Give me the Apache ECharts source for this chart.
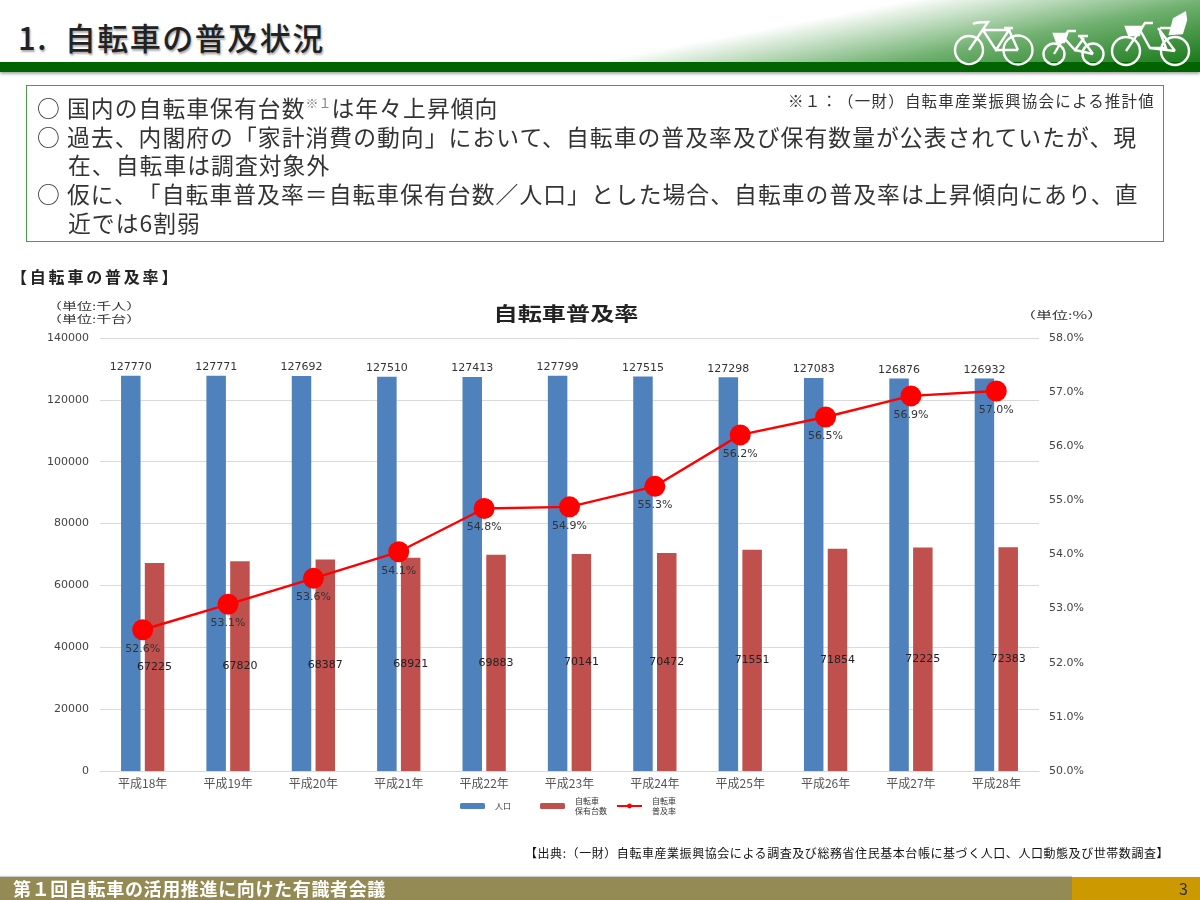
<!DOCTYPE html>
<html>
<head>
<meta charset="utf-8">
<script src="https://cdn.jsdelivr.net/npm/echarts@6/dist/echarts.min.js"></script>
<style>
  html, body { margin: 0; padding: 0; background: #fff; }
  body { width: 1200px; height: 900px; overflow: hidden; position: relative; font-family: "Noto Sans CJK JP", sans-serif; color: #222; text-spacing-trim: space-all; }
  #main { position: absolute; left: 0; top: 0; width: 1200px; height: 900px; }
  .abs { position: absolute; white-space: nowrap; }
  #sweep { left: 0; top: 0; width: 1200px; height: 62px;
    background: linear-gradient(169deg, #ffffff 60%, #6fb06f 80%, #1a7a1a 100%); }
  #bar { left: 0; top: 62px; width: 1200px; height: 10px; background: #006400; box-shadow: 0 2px 3px #aaa; }
  #head { left: 18px; top: 15px; font-size: 31px; line-height: 44px; font-weight: 500; letter-spacing: 1.5px; text-shadow: 1px 2px 2px #aaa; }
  #box { left: 26px; top: 85px; width: 1136px; height: 155px; border: 1px solid #4b9b4b; }
  .ln { font-size: 22.8px; line-height: 29px; letter-spacing: 1.05px; color: #333; }
  .ln sup { font-size: 13px; line-height: 0; color: #888; letter-spacing: 0; }
  #note { left: 788px; top: 90px; font-size: 15.5px; line-height: 20px; letter-spacing: 1.2px; color: #333; }
  #sub { left: 11px; top: 264px; font-size: 16px; line-height: 24px; font-weight: 700; letter-spacing: 2.8px; }
  #src { left: 525px; top: 845px; font-size: 12px; line-height: 16px; letter-spacing: .56px; color: #111; }
  #foot { left: 0; top: 877px; width: 1072px; height: 23px; background: #948a54; box-shadow: 0 -1px 1px #ccc; }
  #footr { left: 1072px; top: 877px; width: 128px; height: 23px; background: #cc9900; }
  #foott { left: 13px; top: 877px; font-size: 18px; line-height: 23px; font-weight: 700; color: #fff; letter-spacing: .65px; }
  #page { left: 1179px; top: 877px; font-size: 16px; line-height: 23px; color: #333; }
</style>
</head>
<body>
<div id="main"></div>
<div class="abs" id="sweep"></div>
<div class="abs" id="bar"></div>
<div class="abs" id="head">1.&nbsp;&nbsp;自転車の普及状況</div>
<svg class="abs" style="left:0;top:0" width="1200" height="80" fill="none" stroke="#fff" stroke-width="2.4">
  <circle cx="969" cy="50" r="14"/><circle cx="1018" cy="50" r="14.5"/>
  <path d="M973 24 Q976 22 988 22 L969 50 M983 30 L1009 30 L996 50 L983 30 M1004 28 L1013 28 M1009 30 L1018 50 M996 50 L1018 50"/>
  <circle cx="1054" cy="54" r="10.5"/><circle cx="1093" cy="54" r="10.5"/>
  <path d="M1054 54 L1068 31 L1076 31 M1064 38 L1075 50 L1084 38 M1080 36 L1093 54 M1075 50 L1093 54 M1078 36 L1088 36"/>
  <path d="M1054 34 H1067 L1064 42 H1057 Z" fill="#fff"/>
  <circle cx="1126" cy="51" r="14"/><circle cx="1175" cy="51" r="14"/>
  <path d="M1126 51 L1145 23 L1153 23 M1140 30 L1150 48 L1166 48 L1160 32 M1158 28 L1175 51 M1150 48 L1175 51 M1160 28 L1172 28"/>
  <path d="M1126 27 H1142 L1139 35 H1129 Z" fill="#fff"/>
  <path d="M1170 34 L1174 19 L1185 13 L1186 20 L1182 33 Z" fill="#fff"/>
</svg>
<div class="abs" id="box"></div>
<div class="abs ln" style="left:37px;top:93px">○ 国内の自転車保有台数<sup>※１</sup>は年々上昇傾向</div>
<div class="abs ln" style="left:37px;top:122px">○ 過去、内閣府の「家計消費の動向」において、自転車の普及率及び保有数量が公表されていたが、現</div>
<div class="abs ln" style="left:68px;top:150px">在、自転車は調査対象外</div>
<div class="abs ln" style="left:37px;top:179px">○ 仮に、「自転車普及率＝自転車保有台数／人口」とした場合、自転車の普及率は上昇傾向にあり、直</div>
<div class="abs ln" style="left:68px;top:208px">近では6割弱</div>
<div class="abs" id="note">※１：（一財）自転車産業振興協会による推計値</div>
<div class="abs" id="sub">【自転車の普及率】</div>
<div class="abs" id="src">【出典:（一財）自転車産業振興協会による調査及び総務省住民基本台帳に基づく人口、人口動態及び世帯数調査】</div>
<div class="abs" id="foot"></div>
<div class="abs" id="footr"></div>
<div class="abs" id="foott">第１回自転車の活用推進に向けた有識者会議</div>
<div class="abs" id="page">3</div>
<script>
// values
var years = ['平成18年', '平成19年', '平成20年', '平成21年', '平成22年', '平成23年', '平成24年', '平成25年', '平成26年', '平成27年', '平成28年']
var population = [127770, 127771, 127692, 127510, 127413, 127799, 127515, 127298, 127083, 126876, 126932]
var bicycles = [67225, 67820, 68387, 68921, 69883, 70141, 70472, 71551, 71854, 72225, 72383]
var rate = [52.61, 53.08, 53.56, 54.05, 54.85, 54.88, 55.26, 56.21, 56.54, 56.93, 57.02]
var rateLabels = ['52.6%', '53.1%', '53.6%', '54.1%', '54.8%', '54.9%', '55.3%', '56.2%', '56.5%', '56.9%', '57.0%']

var jp = '"Noto Sans CJK JP", sans-serif'
var num = { fontFamily: 'DejaVu Sans', fontSize: 11 }

var chart = echarts.init(document.getElementById('main'))
chart.setOption({
  animation: false,
  legend: {
    left: 455, top: 791,
    itemWidth: 25, itemHeight: 6, itemGap: 9,
    textStyle: { fontFamily: jp, fontSize: 8, lineHeight: 10, color: '#333' },
    data: [
      { name: '人口', textStyle: { padding: [0, 20, 0, 5] } },
      { name: '自転車\n保有台数', textStyle: { padding: [0, 0, 0, 5] } },
      { name: '自転車\n普及率', textStyle: { padding: [0, 0, 0, 5] } }
    ]
  },
  grid: { left: 100, right: 161, top: 338, height: 433 },
  xAxis: {
    type: 'category',
    data: years,
    axisTick: { show: false },
    axisLine: { lineStyle: { color: '#d9d9d9' } },
    axisLabel: { fontFamily: jp, fontSize: 12, color: '#555', margin: 6 }
  },
  yAxis: [{
    type: 'value', min: 0, max: 140000, interval: 20000,
    axisLine: { show: false }, axisTick: { show: false },
    axisLabel: Object.assign({ margin: 11, color: '#444', formatter: function (v) { return String(v) } }, num),
    splitLine: { lineStyle: { color: '#d9d9d9' } }
  }, {
    type: 'value', min: 50, max: 58, interval: 1,
    axisLine: { show: false }, axisTick: { show: false },
    axisLabel: Object.assign({ margin: 10, color: '#444', formatter: function (v) { return v.toFixed(1) + '%' } }, num),
    splitLine: { show: false }
  }],
  graphic: [
    // the source picture is stretched sideways, so these are widened with scaleX
    { type: 'text', x: 566, y: 314, scaleX: 1.27, style: { text: '自転車普及率', align: 'center', verticalAlign: 'middle', fontFamily: jp, fontSize: 19, fontWeight: 700, fill: '#222' } },
    { type: 'text', x: 47, y: 300, scaleX: 1.5, style: { text: '（単位:千人）\n（単位:千台）', fontFamily: jp, fontSize: 10, lineHeight: 13, fill: '#333' } },
    { type: 'text', x: 1020, y: 310, scaleX: 1.6, style: { text: '（単位:%）', fontFamily: jp, fontSize: 10, fill: '#333' } }
  ],
  series: [{
    name: '人口',
    type: 'bar',
    data: population,
    barWidth: 19.5,
    barGap: '22%',
    itemStyle: { color: '#4f81bd' },
    label: Object.assign({ show: true, position: 'top', distance: 3, color: '#333' }, num)
  }, {
    name: '自転車\n保有台数',
    type: 'bar',
    data: bicycles,
    barWidth: 19.5,
    itemStyle: { color: '#c0504d' },
    label: Object.assign({ show: true, position: 'inside', color: '#222' }, num)
  }, {
    name: '自転車\n普及率',
    type: 'line',
    yAxisIndex: 1,
    data: rate,
    symbol: 'circle',
    symbolSize: 21,
    itemStyle: { color: '#ff0000' },
    lineStyle: { color: '#ff0000', width: 2.4 },
    label: Object.assign({
      show: true, position: 'bottom', distance: 3, color: '#333',
      formatter: function (p) { return rateLabels[p.dataIndex] }
    }, num)
  }]
})
</script>
</body>
</html>
